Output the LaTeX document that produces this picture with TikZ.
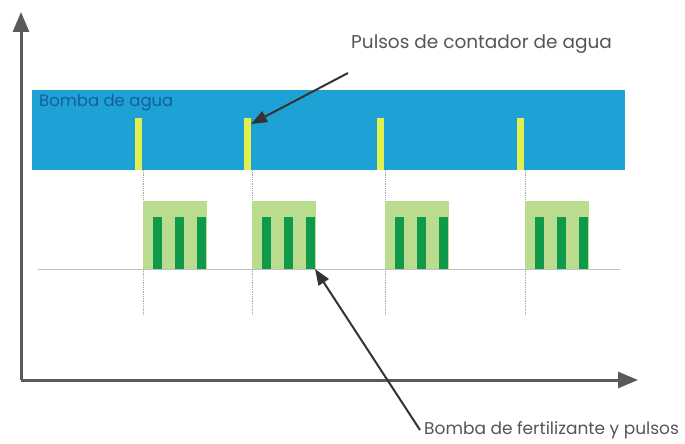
\documentclass[tikz,border=0pt]{standalone}
\usepackage{fontspec}
\setmainfont{Poppins}
\usetikzlibrary{arrows.meta}
\definecolor{bandblue}{HTML}{1EA2D6}
\definecolor{bandtext}{HTML}{14609A}
\definecolor{pulseyellow}{HTML}{E4EE4C}
\definecolor{lightgreen}{HTML}{B9DC8E}
\definecolor{darkgreen}{HTML}{0E9A4A}
\definecolor{axisgray}{HTML}{5A5A5A}
\definecolor{labelgray}{HTML}{555555}
\tikzset{
  block/.style={draw=none, inner sep=0pt, outer sep=0pt, anchor=north west},
  axis/.style={draw=axisgray, line width=3pt, -{Triangle[length=20pt,width=16pt]}},
  pointer/.style={draw=black!80, line width=2pt, -{Triangle[length=16pt,width=12pt]}},
  guide/.style={draw=gray!70, line width=0.8pt, densely dotted},
  baseline/.style={draw=gray!50, line width=0.9pt},
  lbl/.style={text=labelgray, inner sep=0pt, anchor=west, font=\fontsize{18.5}{21}\selectfont}
}
\begin{document}
\begin{tikzpicture}[x=1pt,y=-1pt]
\useasboundingbox (0,0) rectangle (685,444);
% water pump band
\node[block, fill=bandblue, minimum width=593pt, minimum height=80pt] (band) at (32,90) {};
\node[anchor=west, inner sep=0pt, text=bandtext, font=\fontsize{16.5}{18}\selectfont] (bandlbl) at (39,103) {Bomba de agua};
% baseline of fertilizer
\coordinate (bl0) at (38,269);
\coordinate (bl1) at (620,269);
\draw[baseline] (bl0) -- (bl1);
% pulses, guides, fertilizer boxes
\foreach \i/\x in {1/143,2/252,3/385,4/525}{
  \node[block, fill=pulseyellow, minimum width=7pt, minimum height=52pt] (p\i) at (\x-8,118) {};
  \coordinate (g\i a) at (\x,170);
  \coordinate (g\i b) at (\x,315);
  \draw[guide] (g\i a) -- (g\i b);
  \node[block, fill=lightgreen, minimum width=64pt, minimum height=68pt] (f\i) at (\x,201) {};
  \foreach \j/\o in {1/10,2/32,3/54}{
    \node[block, fill=darkgreen, minimum width=9pt, minimum height=52pt] (b\i\j) at (\x+\o,217) {};
  }
}
% axes
\coordinate (origin) at (21,380);
\coordinate (ytip) at (21,12);
\coordinate (xtip) at (638,380);
\draw[axis] (origin) -- (ytip);
\draw[axis] (origin) -- (xtip);
% labels and pointers
\node[lbl] (lpulsos) at (351,44) {Pulsos de contador de agua};
\coordinate (a1) at (348,73);
\draw[pointer] (a1) -- (p2.east |- 0,124);
\node[lbl, font=\fontsize{17}{20}\selectfont] (lferti) at (424,430) {Bomba de fertilizante y pulsos};
\coordinate (a2) at (420,430);
\draw[pointer] (a2) -- (b23.south east);
\end{tikzpicture}
\end{document}
